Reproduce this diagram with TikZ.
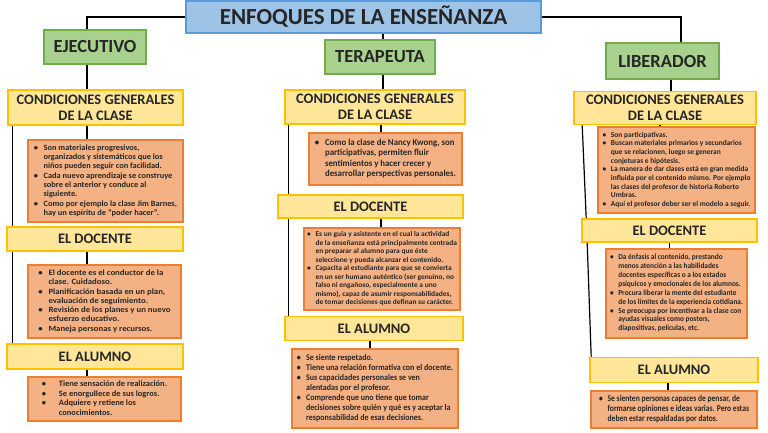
\documentclass[tikz,border=0pt]{standalone}
\usepackage{fontspec}
\setmainfont{Carlito}
\usepackage{graphicx}
\usepackage{tikz}
\definecolor{azulf}{HTML}{9DC3E6}
\definecolor{azulb}{HTML}{5B9BD5}
\definecolor{verdef}{HTML}{A9D18E}
\definecolor{verdeb}{HTML}{70AD47}
\definecolor{amaf}{HTML}{FFE699}
\definecolor{amab}{HTML}{FFC000}
\definecolor{salf}{HTML}{F4B183}
\definecolor{salb}{HTML}{ED7D31}
\definecolor{tinta}{HTML}{262626}
\tikzset{every node/.style={font=\bfseries, text=tinta, line width=1.6pt, inner sep=2pt}}
\tikzset{titulo/.style={draw=azulb, fill=azulf, font=\bfseries\fontsize{23}{25}\selectfont}}
\tikzset{rol/.style={draw=verdeb, fill=verdef, font=\bfseries\fontsize{18.5}{20}\selectfont}}
\tikzset{seccion/.style={draw=amab, fill=amaf, align=center, font=\bfseries\fontsize{14.5}{16}\selectfont}}
\tikzset{texto/.style={draw=salb, fill=salf, inner sep=0pt, font=\bfseries\fontsize{7}{8.1}\selectfont}}
\newcommand{\bu}{\makebox[8pt][l]{\textbullet}}
\newcommand{\ct}{\hspace*{8pt}}
% bloque de texto ajustado a ancho x alto total
\newcommand{\bloque}[3]{\resizebox*{#1pt}{#2pt}{\begin{tabular}{@{}l@{}}#3\end{tabular}}}

\begin{document}
\begin{tikzpicture}[x=1pt, y=-1pt, line width=1.2pt]
\useasboundingbox (0,0) rectangle (768,433);
\node[titulo, minimum width=355, minimum height=32] (enf) at (363.5,17) {ENFOQUES DE LA ENSEÑANZA};
\node[rol, minimum width=102, minimum height=34] (ejec) at (95,47) {EJECUTIVO};
\node[rol, minimum width=110, minimum height=34] (ter) at (380,57) {TERAPEUTA};
\node[rol, minimum width=113, minimum height=36] (lib) at (662.5,61) {LIBERADOR};
% ejecutivo
\node[seccion, minimum width=175, minimum height=35] (cgc1) at (95.5,107.5) {CONDICIONES GENERALES\\DE LA CLASE};
\node[texto, minimum width=155, minimum height=82] (cgc1t) at (105.5,181) {\bloque{143}{75}{\bu Son materiales progresivos,\\ \ct organizados y sistemáticos que los\\ \ct niños pueden seguir con facilidad.\\ \bu Cada nuevo aprendizaje se construye\\ \ct sobre el anterior y conduce al\\ \ct siguiente.\\ \bu Como por ejemplo la clase Jim Barnes,\\ \ct hay un espíritu de “poder hacer”.}};
\node[seccion, minimum width=176, minimum height=24] (doc1) at (95,239) {EL DOCENTE};
\node[texto, minimum width=153, minimum height=73] (doc1t) at (104.5,301.5) {\bloque{132}{65}{\bu El docente es el conductor de la\\ \ct clase. Cuidadoso.\\ \bu Planificación basada en un plan,\\ \ct evaluación de seguimiento.\\ \bu Revisión de los planes y un nuevo\\ \ct esfuerzo educativo.\\ \bu Maneja personas y recursos.}};
\node[seccion, minimum width=176, minimum height=25] (alu1) at (95,356.5) {EL ALUMNO};
\node[texto, minimum width=153, minimum height=44] (alu1t) at (104.5,399) {\bloque{125}{38}{\makebox[14pt][l]{\textbullet}Tiene sensación de realización.\\ \makebox[14pt][l]{\textbullet}Se enorgullece de sus logros.\\ \makebox[14pt][l]{\textbullet}Adquiere y retiene los\\ \hspace*{14pt}conocimientos.}};
% terapeuta
\node[seccion, minimum width=180, minimum height=34] (cgc2) at (375,107) {CONDICIONES GENERALES\\DE LA CLASE};
\node[texto, minimum width=153, minimum height=52] (cgc2t) at (385.5,159) {\bloque{141}{42}{\bu Como la clase de Nancy Kwong, son\\ \ct participativas, permiten fluir\\ \ct sentimientos y hacer crecer y\\ \ct desarrollar perspectivas personales.}};
\node[seccion, minimum width=185, minimum height=23] (doc2) at (370.5,206.5) {EL DOCENTE};
\node[texto, minimum width=156, minimum height=82] (doc2t) at (382,269) {\bloque{150}{76}{\bu Es un guía y asistente en el cual la actividad\\ \ct de la enseñanza está principalmente centrada\\ \ct en preparar al alumno para que éste\\ \ct seleccione y pueda alcanzar el contenido.\\ \bu Capacita al estudiante para que se convierta\\ \ct en un ser humano auténtico (ser genuino, no\\ \ct falso ni engañoso, especialmente a uno\\ \ct mismo), capaz de asumir responsabilidades,\\ \ct de tomar decisiones que definan su carácter.}};
\node[seccion, minimum width=178, minimum height=24] (alu2) at (374,328.5) {EL ALUMNO};
\node[texto, minimum width=166, minimum height=79] (alu2t) at (375,388.5) {\bloque{156}{70}{\bu Se siente respetado.\\ \bu Tiene una relación formativa con el docente.\\ \bu Sus capacidades personales se ven\\ \ct alentadas por el profesor.\\ \bu Comprende que uno tiene que tomar\\ \ct decisiones sobre quién y qué es y aceptar la\\ \ct responsabilidad de esas decisiones.}};
% liberador
\node[seccion, minimum width=182, minimum height=33] (cgc3) at (665,108) {CONDICIONES GENERALES\\DE LA CLASE};
\node[texto, minimum width=157, minimum height=86] (cgc3t) at (676.5,170) {\bloque{148}{78}{\bu Son participativas.\\ \bu Buscan materiales primarios y secundarios\\ \ct que se relacionen, luego se generan\\ \ct conjeturas e hipótesis.\\ \bu La manera de dar clases está en gran medida\\ \ct influida por el contenido mismo. Por ejemplo\\ \ct las clases del profesor de historia Roberto\\ \ct Umbras.\\ \bu Aquí el profesor deber ser el modelo a seguir.}};
\node[seccion, minimum width=175, minimum height=23] (doc3) at (669.5,230.5) {EL DOCENTE};
\node[texto, minimum width=141, minimum height=89] (doc3t) at (676.5,293.5) {\bloque{133}{80}{\bu Da énfasis al contenido, prestando\\ \ct menos atención a las habilidades\\ \ct docentes específicas o a los estados\\ \ct psíquicos y emocionales de los alumnos.\\ \bu Procura liberar la mente del estudiante\\ \ct de los límites de la experiencia cotidiana.\\ \bu Se preocupa por incentivar a la clase con\\ \ct ayudas visuales como posters,\\ \ct diapositivas, películas, etc.}};
\node[seccion, minimum width=168, minimum height=25] (alu3) at (674,370) {EL ALUMNO};
\node[texto, minimum width=166, minimum height=37] (alu3t) at (674,409.5) {\bloque{150}{31}{\bu Se sienten personas capaces de pensar, de\\ \ct formarse opiniones e ideas varias. Pero estas\\ \ct deben estar respaldadas por datos.}};
% conectores
\draw (enf.west) -| ([xshift=-8pt]ejec.north);
\draw (enf.east) -| ([xshift=18.5pt]lib.north);
\draw ([xshift=3pt]ter.north) -- ([xshift=3pt]ter.north |- enf.south);
\draw ([xshift=-8pt]ejec.south) -- ([xshift=-8pt]ejec.south |- cgc1.north);
\draw ([xshift=3pt]ter.south) -- ([xshift=3pt]ter.south |- cgc2.north);
\draw ([xshift=8.5pt]lib.south) -- ([xshift=8.5pt]lib.south |- cgc3.north);
\draw ([xshift=-8.5pt]cgc1.south) -- ([xshift=-8.5pt]cgc1.south |- cgc1t.north);
\draw ([xshift=-8pt]doc1.south) -- ([xshift=-8pt]doc1.south |- doc1t.north);
\draw ([xshift=-8pt]alu1.south) -- ([xshift=-8pt]alu1.south |- alu1t.north);
\draw ([xshift=6pt]cgc2.south) -- ([xshift=6pt]cgc2.south |- cgc2t.north);
\draw ([xshift=10.5pt]doc2.south) -- ([xshift=10.5pt]doc2.south |- doc2t.north);
\draw ([xshift=-4pt]alu2.south) -- ([xshift=-4pt]alu2.south |- alu2t.north);
\draw ([xshift=-5pt]cgc3.south) -- ([xshift=-5pt]cgc3.south |- cgc3t.north);
\draw (doc3.south) -- (doc3.south |- doc3t.north);
\draw ([xshift=-6pt]alu3.south) -- ([xshift=-6pt]alu3.south |- alu3t.north);
\draw ([xshift=5pt]cgc1.south west) -- ([xshift=6pt]doc1.north west);
\draw ([xshift=6pt]doc1.south west) -- ([xshift=6pt]alu1.north west);
\draw ([xshift=4pt]cgc2.south west) -- ([xshift=11pt]doc2.north west);
\draw ([xshift=11pt]doc2.south west) -- ([xshift=4pt]alu2.north west);
\draw ([xshift=9pt]cgc3.south west) -- ([xshift=5pt]doc3.north west);
\draw ([xshift=6pt]doc3.south west) -- ([xshift=2pt]alu3.north west);
\end{tikzpicture}
\end{document}
